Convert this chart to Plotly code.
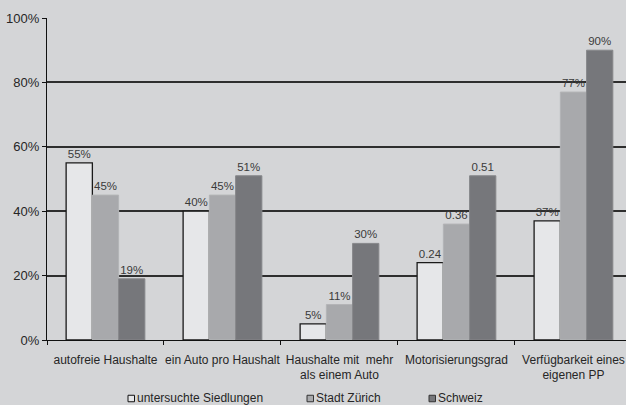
import plotly.graph_objects as go

categories = ["autofreie Haushalte", "ein Auto pro Haushalt",
              "Haushalte mit  mehr<br>als einem Auto", "Motorisierungsgrad",
              "Verfügbarkeit eines<br>eigenen PP"]
series_names = ["untersuchte Siedlungen", "Stadt Zürich", "Schweiz"]
siedlungen = [55, 40, 5, 24, 37]
zuerich = [45, 45, 11, 36, 77]
schweiz = [19, 51, 30, 51, 90]
siedlungen_labels = ["55%", "40%", "5%", "0.24", "37%"]
zuerich_labels = ["45%", "45%", "11%", "0.36", "77%"]
schweiz_labels = ["19%", "51%", "30%", "0.51", "90%"]
y_ticks = [0, 20, 40, 60, 80, 100]
y_tick_labels = ["0%", "20%", "40%", "60%", "80%", "100%"]

fills = ["#e6e7e9", "#a8a9ac", "#76777b"]
outlines = ["#1a1a1a", "#b3b4b6", "#86878a"]
legend_outlines = ["#111111", "#333333", "#333333"]
values = [siedlungen, zuerich, schweiz]
labels = [siedlungen_labels, zuerich_labels, schweiz_labels]

BG = "#d4d5d7"
FONT = "Liberation Sans, Arial, sans-serif"
TXT = "#262626"
LBL = "#3a3a3a"

W, H = 626, 405
ML, MR, MT, MB = 47, 0, 18, 65
PW, PH = W - ML - MR, H - MT - MB

def px_x(px):
    return (px - ML) / PW

def px_y(py):
    return (H - MB - py) / PH

fig = go.Figure()
for name, vals, labs, fc, lc, lw in zip(series_names, values, labels, fills, outlines, [1.3, 1, 1]):
    fig.add_trace(go.Bar(
        x=categories, y=vals, name=name, text=labs,
        textposition="outside", constraintext="none", cliponaxis=False,
        textfont=dict(family=FONT, size=11.5, color=LBL),
        marker=dict(color=fc, line=dict(color=lc, width=lw)),
        showlegend=False, hoverinfo="skip",
    ))

# hand-placed legend (small squares + labels) below the plot
legend_x = [128, 307, 429]
legend_y = 397.5
sq = 6.5
for name, lx, fc, lc in zip(series_names, legend_x, fills, legend_outlines):
    fig.add_shape(type="rect", xref="paper", yref="paper",
                  x0=px_x(lx), x1=px_x(lx + sq),
                  y0=px_y(legend_y + 1 + sq / 2), y1=px_y(legend_y + 1 - sq / 2),
                  fillcolor=fc, line=dict(color=lc, width=1))
    fig.add_annotation(xref="paper", yref="paper", x=px_x(lx + sq + 0.5), y=px_y(legend_y),
                       xanchor="left", yanchor="middle", showarrow=False,
                       text=name, font=dict(family=FONT, size=12, color=TXT))

fig.update_layout(
    width=W, height=H,
    margin=dict(l=ML, r=MR, t=MT, b=MB, pad=0, autoexpand=False),
    paper_bgcolor=BG, plot_bgcolor=BG,
    barmode="group", bargap=0.327, bargroupgap=0,
    font=dict(family=FONT, size=12, color=TXT),
    showlegend=False,
    xaxis=dict(type="category", range=[-0.5, 4.449], showgrid=False,
               automargin=False, tickangle=0,
               showline=True, linecolor="#111111", linewidth=1.3,
               ticks="outside", tickson="boundaries", ticklen=4, tickcolor="#111111",
               ticklabelstandoff=8,
               tickfont=dict(family=FONT, size=12, color=TXT)),
    yaxis=dict(range=[0, 100], tickvals=y_ticks, ticktext=y_tick_labels,
               automargin=False,
               showgrid=True, gridcolor="#2e2e2e", gridwidth=1.5,
               showline=True, linecolor="#111111", linewidth=1.3,
               ticks="outside", ticklen=4, tickcolor="#111111",
               zeroline=False,
               tickfont=dict(family=FONT, size=13, color=TXT)),
)

fig.write_html("out.html", config={"displayModeBar": False},
               post_script="document.body.style.margin='0';document.body.style.overflow='hidden';")
